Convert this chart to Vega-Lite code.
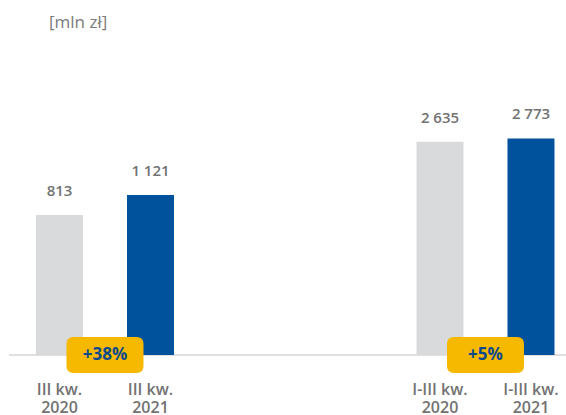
{
  "$schema": "https://vega.github.io/schema/vega-lite/v6.json",
  "width": 557,
  "height": 315,
  "autosize": {"type": "none"},
  "padding": {"left": 9, "top": 40, "right": 0, "bottom": 60},
  "background": "white",
  "config": {
    "view": {"stroke": null},
    "locale": {"number": {"decimal": ",", "thousands": " ", "grouping": [3], "currency": ["", " zł"]}}
  },
  "title": {
    "text": "[mln zł]",
    "anchor": "start",
    "frame": "group",
    "dx": 40,
    "offset": 8,
    "font": "Open Sans",
    "fontSize": 17,
    "fontWeight": "normal",
    "color": "#7a7a7a"
  },
  "datasets": {
    "bars": [
      {"group": "III kw.", "year": "2020", "label": "III kw.\n2020", "value": 813},
      {"group": "III kw.", "year": "2021", "label": "III kw.\n2021", "value": 1121},
      {"group": "I-III kw.", "year": "2020", "label": "I-III kw.\n2020", "value": 2635},
      {"group": "I-III kw.", "year": "2021", "label": "I-III kw.\n2021", "value": 2773}
    ],
    "changes": [
      {"group": "III kw.", "change": "+38%"},
      {"group": "I-III kw.", "change": "+5%"}
    ]
  },
  "encoding": {
    "x": {
      "field": "group",
      "type": "nominal",
      "sort": ["III kw.", "I-III kw."],
      "scale": {"paddingInner": 0.6373, "paddingOuter": 0.0506, "align": 0.701},
      "axis": null
    }
  },
  "layer": [
    {
      "data": {"values": [{}]},
      "mark": {"type": "rule", "color": "#e0e0e0", "strokeWidth": 2},
      "encoding": {"x": null, "y": {"datum": 86, "type": "quantitative", "scale": {"type": "log", "domain": [86, 13450], "nice": false}, "axis": null}}
    },
    {
      "data": {"name": "bars"},
      "mark": {"type": "bar"},
      "encoding": {
        "xOffset": {"field": "year", "type": "nominal", "scale": {"paddingInner": 0.4835, "paddingOuter": 0}},
        "y": {"field": "value", "type": "quantitative", "stack": null, "scale": {"type": "log", "domain": [86, 13450], "nice": false}, "axis": null},
        "color": {"field": "year", "type": "nominal", "scale": {"domain": ["2020", "2021"], "range": ["#d9dadb", "#00529c"]}, "legend": null}
      }
    },
    {
      "data": {"name": "bars"},
      "mark": {"type": "text", "font": "Open Sans", "fontSize": 15, "fontWeight": 600, "color": "#727272", "baseline": "alphabetic", "dy": -19},
      "encoding": {
        "xOffset": {"field": "year", "type": "nominal"},
        "y": {"field": "value", "type": "quantitative", "stack": null},
        "text": {"field": "value", "type": "quantitative", "format": ","}
      }
    },
    {
      "data": {"name": "bars"},
      "mark": {"type": "text", "font": "Open Sans", "fontSize": 16, "fontWeight": 600, "color": "#727272", "baseline": "alphabetic", "dy": 40, "lineBreak": "\n", "lineHeight": 18},
      "encoding": {
        "xOffset": {"field": "year", "type": "nominal"},
        "y": {"datum": 86, "type": "quantitative"},
        "text": {"field": "label", "type": "nominal"}
      }
    },
    {
      "data": {"name": "changes"},
      "mark": {
        "type": "point",
        "shape": "M -0.818 -0.4675 L 0.818 -0.4675 Q 1 -0.4675 1 -0.2855 L 1 0.2855 Q 1 0.4675 0.818 0.4675 L -0.818 0.4675 Q -1 0.4675 -1 0.2855 L -1 -0.2855 Q -1 -0.4675 -0.818 -0.4675 Z",
        "size": 5929,
        "filled": true,
        "color": "#f6b900",
        "opacity": 1,
        "strokeWidth": 0
      },
      "encoding": {
        "y": {"datum": 86, "type": "quantitative"}
      }
    },
    {
      "data": {"name": "changes"},
      "mark": {"type": "text", "font": "Open Sans", "fontSize": 17, "fontWeight": "bold", "color": "#0d4a8c", "baseline": "middle", "dy": 0},
      "encoding": {
        "y": {"datum": 86, "type": "quantitative"},
        "text": {"field": "change", "type": "nominal"}
      }
    }
  ]
}
